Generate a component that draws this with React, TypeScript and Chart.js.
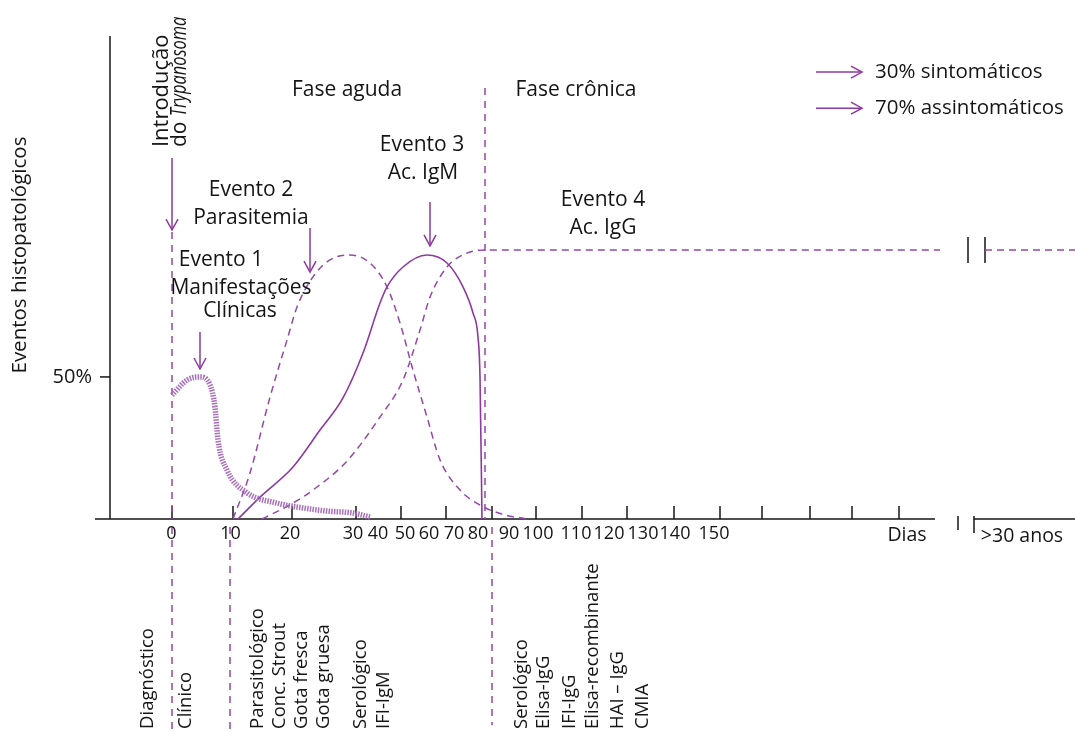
import React, { useEffect, useRef } from "react";
import { Chart, registerables } from "chart.js";

Chart.register(...registerables);

const FONT = '"Open Sans", "Noto Sans", "DejaVu Sans", sans-serif';
const PURPLE = "#8d3a9e";
const PURPLE_DASH = "#9448a7";
const HATCH = "#a870bc";
const INK = "#151515";

// ---- Curves: x = schematic time-axis units, y = % of events ----
const parasitemiaX = [12.3, 14.0, 16.0, 17.7, 18.7, 20.3, 22.0, 24.0, 26.0, 27.7, 29.0, 30.3, 31.7, 33.0, 35.0, 37.0, 39.5, 41.8];
const parasitemiaY = [0, 16.2, 42.9, 63.0, 74.6, 85.2, 91.2, 92.9, 90.1, 81.7, 69.0, 52.4, 35.9, 20.8, 10.2, 4.9, 1.4, 0];

const igmX = [12.8, 15.0, 18.3, 21.0, 23.3, 25.3, 27.0, 27.7, 29.3, 31.7, 33.7, 35.3, 36.3, 36.8, 37.0, 37.2];
const igmY = [0, 7.7, 18.3, 31.3, 42.6, 58.4, 76.0, 81.7, 88.7, 92.9, 90.1, 81.7, 72.5, 64.0, 50.0, 0];

const iggX = [15.2, 18.3, 20.3, 23.7, 27.0, 29.3, 31.0, 32.0, 33.7, 35.7, 37.7, 83.0];
const iggY = [0, 5.6, 10.2, 20.4, 35.9, 48.9, 66.5, 78.1, 88.7, 93.6, 94.7, 94.7];

const iggLateX = [87.5, 96.5];
const iggLateY = [94.7, 94.7];

const clinicalX = [6.2, 7.7, 9.0, 10.0, 10.5, 10.8, 11.7, 13.7, 16.7, 19.3, 21.7, 24.3, 26.0];
const clinicalY = [43.6, 48.9, 50.0, 47.2, 39.4, 27.8, 17.2, 9.2, 5.6, 3.9, 2.8, 2.1, 0.7];

// ---- Axis ----
const tickPos = [6.2, 12.3, 18.2, 24.6, 29.1, 33.6, 38.2, 42.6, 47.2, 51.7, 56.4, 61.0, 65.2, 70.0, 74.2, 78.9];
const tickLabels = ["0", "10", "20", "30", "40", "50", "60", "70", "80", "90", "100", "110", "120", "130", "140", "150"];
const tickLabelPos = [6.15, 12.05, 18.0, 24.3, 26.8, 29.5, 31.9, 34.4, 36.8, 39.9, 42.8, 46.6, 49.9, 53.3, 56.5, 60.4];
const yTickValues = [50];
const yTickLabels = ["50%"];

// ---- Diagnosis labels under the axis ----
const bottomLabels = [
  "Diagnóstico", "Clínico",
  "Parasitológico", "Conc. Strout", "Gota fresca", "Gota gruesa",
  "Serológico", "IFI-IgM",
  "Serológico", "Elisa-IgG", "IFI-IgG", "Elisa-recombinante", "HAI – IgG", "CMIA",
];
const bottomLabelPos = [4.3, 8.1, 15.3, 17.5, 19.7, 21.9, 25.6, 27.9, 41.7, 43.9, 46.5, 48.8, 51.3, 53.8];

// ---- Annotation texts (data units) ----
const noteTexts = ["Fase aguda", "Fase crônica", "Evento 2", "Parasitemia", "Evento 1", "Manifestações", "Clínicas", "Evento 3", "Ac. IgM", "Evento 4", "Ac. IgG"];
const noteX = [23.7, 46.6, 14.1, 14.1, 11.1, 13.1, 13.0, 31.2, 31.3, 49.3, 49.3];
const noteY = [150.9, 150.9, 115.8, 105.9, 91.2, 81.3, 73.2, 131.5, 121.8, 112.3, 102.4];

// down arrows: x, from y, to y
const arrowX = [6.2, 20.0, 9.0, 32.0];
const arrowFrom = [127.1, 102.4, 65.8, 111.6];
const arrowTo = [101.7, 86.9, 52.8, 96.1];

const legendLabels = ["30% sintomáticos", "70% assintomáticos"];
const legendY = [157.3, 144.6];

const pts = (xs: number[], ys: number[]) => xs.map((x, i) => ({ x, y: ys[i] }));

function App() {
  const ref = useRef<HTMLCanvasElement | null>(null);

  useEffect(() => {
    document.body.style.margin = "0";
    const canvas = ref.current;
    if (!canvas) return;

    const seg = (ctx: CanvasRenderingContext2D, x1: number, y1: number, x2: number, y2: number, color: string, w: number, dash: number[] = []) => {
      ctx.save();
      ctx.strokeStyle = color;
      ctx.lineWidth = w;
      ctx.setLineDash(dash);
      ctx.beginPath();
      ctx.moveTo(x1, y1);
      ctx.lineTo(x2, y2);
      ctx.stroke();
      ctx.restore();
    };

    const axesPlugin = {
      id: "axesPlugin",
      beforeDatasetsDraw(chart: any) {
        const ctx: CanvasRenderingContext2D = chart.ctx;
        const xs = chart.scales.x;
        const ys = chart.scales.y;
        const X = (v: number) => xs.getPixelForValue(v);
        const Y = (v: number) => ys.getPixelForValue(v);
        const y0 = Y(0);
        // y axis
        seg(ctx, X(0), Y(0), X(0), Y(170), INK, 1.5);
        yTickValues.forEach((v) => seg(ctx, X(0) - 10, Y(v), X(0), Y(v), INK, 1.5));
        // x axis
        seg(ctx, X(-1.5), y0, X(82.5), y0, INK, 1.5);
        seg(ctx, X(86.4), y0, X(96.5), y0, INK, 1.5);
        tickPos.forEach((t) => seg(ctx, X(t), y0, X(t), y0 - 13, INK, 1.5));
        // axis break
        seg(ctx, X(84.8), y0 - 3, X(84.8), y0 + 11, INK, 1.5);
        seg(ctx, X(86.4), y0 - 3, X(86.4), y0 + 14, INK, 1.5);
        // upper break at IgG plateau
        const yp = Y(iggLateY[0]);
        seg(ctx, X(85.8), yp - 13, X(85.8), yp + 13, INK, 1.5);
        seg(ctx, X(87.5), yp - 13, X(87.5), yp + 13, INK, 1.5);

        // vertical dashed phase lines
        const d = [7, 6];
        seg(ctx, X(6.2), Y(101.0), X(6.2), y0, PURPLE_DASH, 1.5, d);
        seg(ctx, X(6.2), y0 + 8, X(6.2), chart.height, PURPLE_DASH, 1.5, d);
        seg(ctx, X(12.0), y0 + 8, X(12.0), chart.height, PURPLE_DASH, 1.5, d);
        seg(ctx, X(37.5), Y(151.7), X(37.5), y0, PURPLE_DASH, 1.5, d);
        seg(ctx, X(38.2), y0 + 8, X(38.2), Y(-72.6), PURPLE_DASH, 1.5, d);
      },
      afterDatasetsDraw(chart: any) {
        const ctx: CanvasRenderingContext2D = chart.ctx;
        const xs = chart.scales.x;
        const ys = chart.scales.y;
        const X = (v: number) => xs.getPixelForValue(v);
        const Y = (v: number) => ys.getPixelForValue(v);
        const y0 = Y(0);
        ctx.save();
        ctx.fillStyle = INK;

        // tick labels
        ctx.font = `18px ${FONT}`;
        ctx.textAlign = "center";
        ctx.textBaseline = "middle";
        tickLabels.forEach((l, i) => ctx.fillText(l, X(tickLabelPos[i]), y0 + 15));
        ctx.font = `19.5px ${FONT}`;
        ctx.fillText("Dias", X(79.7), y0 + 16);
        ctx.fillText(">30 anos", X(91.2), y0 + 17);

        // y tick label
        ctx.font = `20px ${FONT}`;
        ctx.textAlign = "right";
        yTickLabels.forEach((l, i) => ctx.fillText(l, X(-1.8), Y(yTickValues[i])));

        // y title
        ctx.save();
        ctx.translate(X(-8.4), Y(92.9));
        ctx.rotate(-Math.PI / 2);
        ctx.textAlign = "center";
        ctx.textBaseline = "alphabetic";
        ctx.font = `20.5px ${FONT}`;
        ctx.fillText("Eventos histopatológicos", 0, 0);
        ctx.restore();

        // notes
        ctx.font = `21px ${FONT}`;
        ctx.textAlign = "center";
        ctx.textBaseline = "middle";
        noteTexts.forEach((t, i) => ctx.fillText(t, X(noteX[i]), Y(noteY[i])));

        // Introdução do Trypanosoma (rotated)
        ctx.save();
        ctx.translate(X(5.75), Y(130.9));
        ctx.rotate(-Math.PI / 2);
        ctx.textAlign = "left";
        ctx.textBaseline = "alphabetic";
        ctx.font = `22px ${FONT}`;
        ctx.fillText("Introdução", 0, 0);
        ctx.restore();
        ctx.save();
        ctx.translate(X(7.55), Y(130.9));
        ctx.rotate(-Math.PI / 2);
        ctx.textAlign = "left";
        ctx.textBaseline = "alphabetic";
        ctx.font = `21px ${FONT}`;
        ctx.fillText("do ", 0, 0);
        const w = ctx.measureText("do ").width;
        ctx.translate(w, 0);
        ctx.scale(0.78, 1);
        ctx.font = `italic 21px ${FONT}`;
        ctx.fillText("Trypanosoma", 0, 0);
        ctx.restore();

        // bottom diagnosis labels
        ctx.font = `18.5px ${FONT}`;
        bottomLabels.forEach((t, i) => {
          ctx.save();
          ctx.translate(X(bottomLabelPos[i]), Y(-73.9));
          ctx.rotate(-Math.PI / 2);
          ctx.textAlign = "left";
          ctx.textBaseline = "alphabetic";
          ctx.fillText(t, 0, 0);
          ctx.restore();
        });

        // down arrows
        arrowX.forEach((ax, i) => {
          const x = X(ax);
          const a = Y(arrowFrom[i]);
          const b = Y(arrowTo[i]);
          seg(ctx, x, a, x, b, PURPLE, 1.5);
          ctx.save();
          ctx.strokeStyle = PURPLE;
          ctx.lineWidth = 1.5;
          ctx.beginPath();
          ctx.moveTo(x - 6, b - 11);
          ctx.lineTo(x, b);
          ctx.lineTo(x + 6, b - 11);
          ctx.stroke();
          ctx.restore();
        });

        // legend
        legendLabels.forEach((t, i) => {
          const y = Y(legendY[i]);
          const x1 = X(70.6);
          const x2 = X(75.2);
          seg(ctx, x1, y, x2, y, PURPLE, 1.5);
          ctx.save();
          ctx.strokeStyle = PURPLE;
          ctx.lineWidth = 1.5;
          ctx.beginPath();
          ctx.moveTo(x2 - 11, y - 6);
          ctx.lineTo(x2, y);
          ctx.lineTo(x2 - 11, y + 6);
          ctx.stroke();
          ctx.restore();
          ctx.font = `20.5px ${FONT}`;
          ctx.textAlign = "left";
          ctx.textBaseline = "middle";
          ctx.fillStyle = INK;
          ctx.fillText(t, X(76.5), y);
        });
        ctx.restore();
      },
    };

    const common = { pointRadius: 0, fill: false, cubicInterpolationMode: "monotone" as const, clip: false as any };

    const chart = new Chart(canvas, {
      type: "line",
      data: {
        datasets: [
          { ...common, label: "Manifestações clínicas", data: pts(clinicalX, clinicalY), borderColor: HATCH, borderWidth: 5.5, borderDash: [1.5, 1.2], borderCapStyle: "butt" },
          { ...common, label: "Parasitemia", data: pts(parasitemiaX, parasitemiaY), borderColor: PURPLE_DASH, borderWidth: 1.5, borderDash: [7, 5] },
          { ...common, label: "Ac. IgM", data: pts(igmX, igmY), borderColor: PURPLE, borderWidth: 1.6 },
          { ...common, label: "Ac. IgG", data: pts(iggX, iggY), borderColor: PURPLE_DASH, borderWidth: 1.5, borderDash: [7, 5] },
          { ...common, label: "Ac. IgG (>30 anos)", data: pts(iggLateX, iggLateY), borderColor: PURPLE_DASH, borderWidth: 1.5, borderDash: [7, 5] },
        ],
      },
      options: {
        responsive: false,
        animation: false,
        devicePixelRatio: 1,
        events: [],
        layout: { padding: { left: 110, right: 0, top: 36, bottom: 213 } },
        scales: {
          x: { type: "linear", min: 0, max: 96.5, display: false },
          y: { type: "linear", min: 0, max: 170, display: false },
        },
        plugins: { legend: { display: false }, tooltip: { enabled: false } },
      },
      plugins: [axesPlugin],
    });
    return () => chart.destroy();
  }, []);

  return <canvas ref={ref} width={1075} height={732} style={{ display: "block" }} />;
}

export default App;
